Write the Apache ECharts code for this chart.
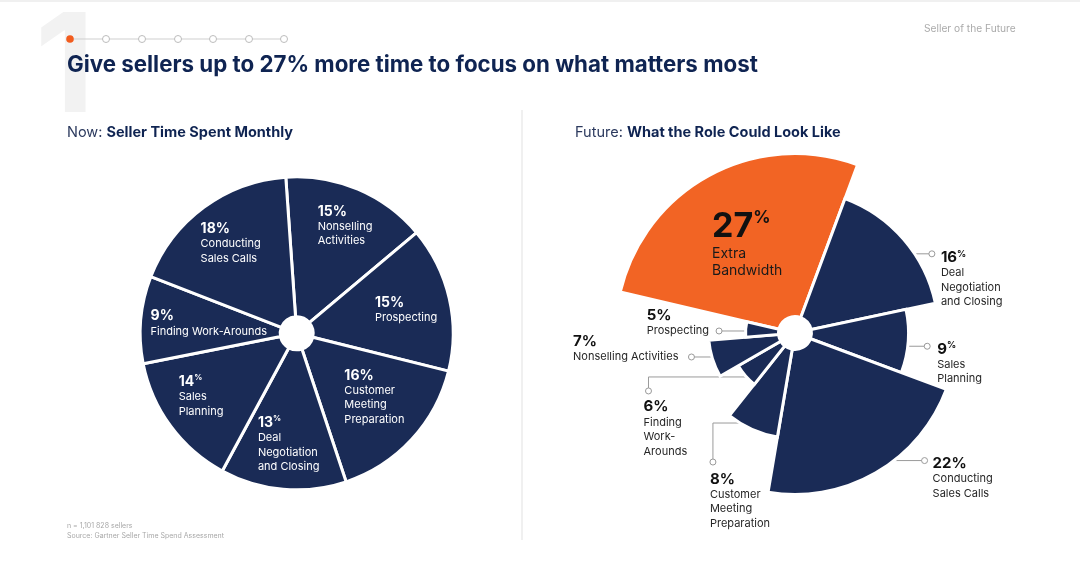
<!DOCTYPE html>
<html><head><meta charset="utf-8">
<script src="https://cdn.jsdelivr.net/npm/echarts@6/dist/echarts.min.js"></script>
<style>html,body{margin:0;padding:0;background:#fff}#c{width:1080px;height:571px}</style>
</head><body><div id="c"></div>
<script>
// ---------- DATA ----------
const nowCategories = ['Nonselling Activities', 'Prospecting', 'Customer Meeting Preparation', 'Deal Negotiation and Closing', 'Sales Planning', 'Finding Work-Arounds', 'Conducting Sales Calls'];
const nowValues = [15, 15, 16, 13, 14, 9, 18];
const nowLabelLines = [['Nonselling', 'Activities'], ['Prospecting'], ['Customer', 'Meeting', 'Preparation'], ['Deal', 'Negotiation', 'and Closing'], ['Sales', 'Planning'], ['Finding Work-Arounds'], ['Conducting', 'Sales Calls']];

const futureCategories = ['Extra Bandwidth', 'Deal Negotiation and Closing', 'Sales Planning', 'Conducting Sales Calls', 'Customer Meeting Preparation', 'Finding Work-Arounds', 'Nonselling Activities', 'Prospecting'];
const futureValues = [27, 16, 9, 22, 8, 6, 7, 5];
const futureLabelLines = [['Extra', 'Bandwidth'], ['Deal', 'Negotiation', 'and Closing'], ['Sales', 'Planning'], ['Conducting', 'Sales Calls'], ['Customer', 'Meeting', 'Preparation'], ['Finding', 'Work-', 'Arounds'], ['Nonselling Activities'], ['Prospecting']];

// ---------- STYLE ----------
const FONT = 'Inter';
const NAVY = '#1a2b56';
const ORANGE = '#f26424';
const TITLE = '#0f2452';
// superscript "%" style per label
const nowSup = [false, false, false, true, true, false, false];
const futureSup = [true, true, true, false, false, false, false, false];
// left pie label shifts (px) from default inside anchor
const nowLabelShift = [[-14, -25], [-9, -3], [-18, 3], [-31, 22], [-46, 10], [-57, -2], [-43, -18]];
// right chart: outer radius (px) of each sector (designer-chosen)
const futureRadius = [179.5, 143.5, 113.5, 161.5, 105.5, 65.5, 86.5, 49.5];
const FUT_R0 = 16.5;
// leader lines: f = fraction of slice angle, len = horizontal length, drop = vertical, text dx/dy from end, align
const futureLeader = [
  null,
  {f: 0.62, len: 19, drop: 0, dx: 9, dy: -4, align: 'left'},
  {f: 0.58, len: 21, drop: 0, dx: 10, dy: -5, align: 'left'},
  {f: 0.41, len: 33, drop: 0, dx: 8, dy: -5, align: 'left'},
  {f: 0.71, len: -30, drop: 39, dx: -3, dy: 9, align: 'left'},
  {f: 0.38, len: -100, drop: 14, dx: -5, dy: 8, align: 'left'},
  {f: 0.54, len: -22, drop: 0, dx: -13, dy: -24, align: 'right'},
  {f: 0.40, len: -28, drop: 0, dx: -10, dy: -24, align: 'right'}
];
const insideLabel = {dx: -83, dy: -124};

function pct(v, sup) { return sup ? '{p|' + v + '}{s|%}' : '{p|' + v + '%}'; }

const chart = echarts.init(document.getElementById('c'), null, {renderer: 'canvas'});

// cumulative angles for future chart
const futureData = [];
let acc = 0;
futureValues.forEach(function (v) { futureData.push([acc, acc + v]); acc += v; });

const option = {
  animation: false,
  backgroundColor: '#ffffff',
  polar: {center: [795, 333], radius: [FUT_R0, 179.5]},
  angleAxis: {type: 'value', min: 0, max: 100, startAngle: 166.8, clockwise: true, show: false},
  radiusAxis: {type: 'value', min: 0, max: 1, show: false},
  graphic: [
    {type: 'rect', shape: {x: 0, y: 0, width: 1080, height: 2}, style: {fill: '#f0f0f0'}, z: 1},
    {type: 'text', x: 35, y: 2, style: {text: '1', font: 'bold 138px ' + FONT, fill: '#f2f2f2'}, z: 1},
    {type: 'line', shape: {x1: 70, y1: 39, x2: 284, y2: 39}, style: {stroke: '#cfcfcf', lineWidth: 1}, z: 2},
    {type: 'circle', shape: {cx: 70, cy: 39, r: 3.8}, style: {fill: '#f25c1e'}, z: 3},
    {type: 'circle', shape: {cx: 106, cy: 39, r: 3.5}, style: {fill: '#fff', stroke: '#bdbdbd', lineWidth: 1}, z: 3},
    {type: 'circle', shape: {cx: 142, cy: 39, r: 3.5}, style: {fill: '#fff', stroke: '#bdbdbd', lineWidth: 1}, z: 3},
    {type: 'circle', shape: {cx: 178, cy: 39, r: 3.5}, style: {fill: '#fff', stroke: '#bdbdbd', lineWidth: 1}, z: 3},
    {type: 'circle', shape: {cx: 213, cy: 39, r: 3.5}, style: {fill: '#fff', stroke: '#bdbdbd', lineWidth: 1}, z: 3},
    {type: 'circle', shape: {cx: 249, cy: 39, r: 3.5}, style: {fill: '#fff', stroke: '#bdbdbd', lineWidth: 1}, z: 3},
    {type: 'circle', shape: {cx: 284, cy: 39, r: 3.5}, style: {fill: '#fff', stroke: '#bdbdbd', lineWidth: 1}, z: 3},
    {type: 'text', x: 67, y: 65, style: {text: 'Give sellers up to 27% more time to focus on what matters most', font: 'bold 22.3px ' + FONT, fill: TITLE, verticalAlign: 'middle'}, z: 3},
    {type: 'text', x: 924, y: 29, style: {text: 'Seller of the Future', font: '10.2px ' + FONT, fill: '#ababab', verticalAlign: 'middle'}, z: 3},
    {type: 'rect', shape: {x: 521, y: 110, width: 2, height: 430}, style: {fill: '#f0f0f0'}, z: 1},
    {type: 'text', x: 67, y: 133, style: {text: '{a|Now: }{b|Seller Time Spent Monthly}', verticalAlign: 'middle',
      rich: {a: {fontFamily: FONT, fontSize: 14.5, fill: '#2c3a5e'}, b: {fontFamily: FONT, fontSize: 14.5, fontWeight: 'bold', fill: TITLE}}}, z: 3},
    {type: 'text', x: 575, y: 133, style: {text: '{a|Future: }{b|What the Role Could Look Like}', verticalAlign: 'middle',
      rich: {a: {fontFamily: FONT, fontSize: 14.5, fill: '#2c3a5e'}, b: {fontFamily: FONT, fontSize: 14.5, fontWeight: 'bold', fill: TITLE}}}, z: 3},
    {type: 'text', x: 67, y: 526, style: {text: 'n = 1,101 828 sellers', font: '7px ' + FONT, fill: '#a8a8a8', verticalAlign: 'middle'}, z: 3},
    {type: 'text', x: 67, y: 536, style: {text: 'Source: Gartner Seller Time Spend Assessment', font: '7px ' + FONT, fill: '#a8a8a8', verticalAlign: 'middle'}, z: 3}
  ],
  series: [
    {
      type: 'pie',
      center: [296.7, 333.3],
      radius: [16.5, 156.5],
      startAngle: 94,
      clockwise: true,
      avoidLabelOverlap: false,
      silent: true,
      itemStyle: {color: NAVY, borderColor: '#ffffff', borderWidth: 3},
      emphasis: {disabled: true},
      label: {
        show: true,
        position: 'inside',
        formatter: function (p) {
          return [pct(p.value, nowSup[p.dataIndex])].concat(nowLabelLines[p.dataIndex].map(function (l) { return '{t|' + l + '}'; })).join('\n');
        },
        rich: {
          p: {fontFamily: FONT, fontSize: 14, fontWeight: 'bold', color: '#ffffff', lineHeight: 16, align: 'left'},
          s: {fontFamily: FONT, fontSize: 8, fontWeight: 'bold', color: '#ffffff', verticalAlign: 'top', align: 'left'},
          t: {fontFamily: FONT, fontSize: 11, color: '#ffffff', lineHeight: 14.5, align: 'left'}
        }
      },
      labelLine: {show: false},
      labelLayout: function (p) {
        const s = nowLabelShift[p.dataIndex];
        return {align: 'left', verticalAlign: 'middle', dx: s[0], dy: s[1]};
      },
      data: nowCategories.map(function (n, i) { return {name: n, value: nowValues[i]}; })
    },
    {
      type: 'custom',
      coordinateSystem: 'polar',
      silent: true,
      data: futureData,
      renderItem: function (params, api) {
        const i = params.dataIndex;
        const cs = params.coordSys;
        const cx = cs.cx, cy = cs.cy;
        const p0 = api.coord([1, api.value(0)]);
        const p1 = api.coord([1, api.value(1)]);
        const a0 = Math.atan2(p0[1] - cy, p0[0] - cx);
        let a1 = Math.atan2(p1[1] - cy, p1[0] - cx);
        while (a1 <= a0) a1 += Math.PI * 2;
        const r = futureRadius[i];
        const children = [];
        const rich = {
          p: {fontFamily: FONT, fontSize: 15, fontWeight: 'bold', fill: '#111111', lineHeight: 16, align: 'left'},
          s: {fontFamily: FONT, fontSize: 9, fontWeight: 'bold', fill: '#111111', verticalAlign: 'top', align: 'left'},
          t: {fontFamily: FONT, fontSize: 11, fill: '#262626', lineHeight: 14.5, align: 'left'},
          P: {fontFamily: FONT, fontSize: 34, fontWeight: 'bold', fill: '#111111', lineHeight: 36, align: 'left'},
          S: {fontFamily: FONT, fontSize: 17, fontWeight: 'bold', fill: '#111111', verticalAlign: 'top', align: 'left'},
          T: {fontFamily: FONT, fontSize: 14, fill: '#1a1a1a', lineHeight: 17, align: 'left'}
        };
        const v = futureValues[i];
        const L = futureLeader[i];
        if (L) {
          const am = a0 + (a1 - a0) * L.f;
          const rv = r - 1.5;
          const sx = cx + rv * Math.cos(am), sy = cy + rv * Math.sin(am);
          const ex = sx + L.len, ey = sy + L.drop;
          children.push({type: 'polyline', shape: {points: [[sx, sy], [ex, sy], [ex, ey]]}, style: {stroke: '#9a9a9a', lineWidth: 1, fill: null}, z2: 1});
          children.push({type: 'circle', shape: {cx: ex, cy: ey, r: 3}, style: {fill: '#ffffff', stroke: '#9a9a9a', lineWidth: 1}, z2: 3});
          const txt = [pct(v, futureSup[i])].concat(futureLabelLines[i].map(function (l) { return '{t|' + l + '}'; })).join('\n');
          children.push({type: 'text', x: ex + L.dx, y: ey + L.dy, style: {text: txt, rich: rich, align: L.align, verticalAlign: 'top'}, z2: 4});
        }
        children.push({type: 'sector', shape: {cx: cx, cy: cy, r0: FUT_R0, r: r, startAngle: a0, endAngle: a1, clockwise: true},
          style: {fill: i === 0 ? ORANGE : NAVY, stroke: '#ffffff', lineWidth: 3}, z2: 2});
        if (!L) {
          const txt0 = (futureSup[i] ? '{P|' + v + '}{S|%}' : '{P|' + v + '%}') + '\n' + futureLabelLines[i].map(function (l) { return '{T|' + l + '}'; }).join('\n');
          children.push({type: 'text', x: cx + insideLabel.dx, y: cy + insideLabel.dy, style: {text: txt0, rich: rich, align: 'left', verticalAlign: 'top'}, z2: 4});
        }
        return {type: 'group', children: children};
      }
    }
  ]
};
chart.setOption(option);
</script>
</body></html>
